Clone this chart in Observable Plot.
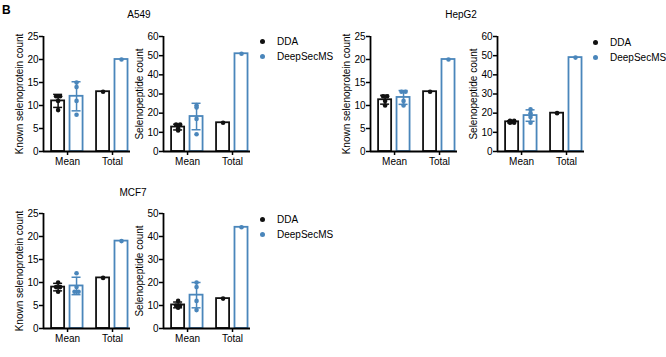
<!DOCTYPE html>
<html><head><meta charset="utf-8">
<script src="https://cdn.jsdelivr.net/npm/d3@7"></script>
<script src="https://cdn.jsdelivr.net/npm/@observablehq/plot@0.6"></script>
<style>
body{margin:0;background:#fff;}
#fig{position:relative;width:666px;height:357px;overflow:hidden;font-family:"Liberation Sans",Arial,sans-serif;background:#fff;color:#000;}
.abs{position:absolute;white-space:nowrap;}
.title{font-size:10px;line-height:12px;transform:translateX(-50%);}
.leg{font-size:10px;line-height:15px;}
.leg .row{display:flex;align-items:center;height:15px;}
.leg .dot{width:5px;height:5px;border-radius:50%;margin-right:12px;margin-left:0;}
.svgwrap{position:absolute;}
</style></head><body><div id="fig"></div>
<script>
// ---- data ----
const groups = ["Mean", "Total"];
const series = ["DDA", "DeepSecMS"];
const seriesColors = ["#111111", "#4a86bb"];
const cellLines = ["A549", "HepG2", "MCF7"];
const metrics = ["Known selenoprotein count", "Selenopeptide count"];

// replicate counts (Mean group) per cell line, metric and series
const a549ProteinDDA = [12, 12, 11, 9];
const a549ProteinDeep = [15, 14, 11, 8];
const a549PeptideDDA = [14, 14, 12, 11];
const a549PeptideDeep = [24, 23, 17, 9];
const hepg2ProteinDDA = [12, 12, 11, 10];
const hepg2ProteinDeep = [13, 13, 11, 10];
const hepg2PeptideDDA = [16, 16, 15, 15];
const hepg2PeptideDeep = [22, 20, 18, 15];
const mcf7ProteinDDA = [10, 9, 9, 8];
const mcf7ProteinDeep = [12, 9, 8, 8];
const mcf7PeptideDDA = [12, 10, 10, 9];
const mcf7PeptideDeep = [20, 18, 12, 8];

// Total group values [DDA, DeepSecMS]
const a549ProteinTotal = [13, 20];
const a549PeptideTotal = [15, 51];
const hepg2ProteinTotal = [13, 20];
const hepg2PeptideTotal = [20, 49];
const mcf7ProteinTotal = [11, 19];
const mcf7PeptideTotal = [13, 44];

// y-axis maxima and tick steps
const proteinYMax = [25, 25, 25];
const peptideYMax = [60, 60, 50];
const proteinTickStep = 5;
const peptideTickStep = 10;

// ---- layout ----
const panels = [
  {cell: 0, metric: 0, reps: [a549ProteinDDA, a549ProteinDeep], totals: a549ProteinTotal, ymax: proteinYMax[0], step: proteinTickStep, axisX: 43, top: 0},
  {cell: 0, metric: 1, reps: [a549PeptideDDA, a549PeptideDeep], totals: a549PeptideTotal, ymax: peptideYMax[0], step: peptideTickStep, axisX: 163, top: 0},
  {cell: 1, metric: 0, reps: [hepg2ProteinDDA, hepg2ProteinDeep], totals: hepg2ProteinTotal, ymax: proteinYMax[1], step: proteinTickStep, axisX: 370, top: 0},
  {cell: 1, metric: 1, reps: [hepg2PeptideDDA, hepg2PeptideDeep], totals: hepg2PeptideTotal, ymax: peptideYMax[1], step: peptideTickStep, axisX: 497, top: 0},
  {cell: 2, metric: 0, reps: [mcf7ProteinDDA, mcf7ProteinDeep], totals: mcf7ProteinTotal, ymax: proteinYMax[2], step: proteinTickStep, axisX: 43, top: 177},
  {cell: 2, metric: 1, reps: [mcf7PeptideDDA, mcf7PeptideDeep], totals: mcf7PeptideTotal, ymax: peptideYMax[2], step: peptideTickStep, axisX: 163, top: 177}
];
const titles = [{cell: 0, x: 139, y: 9}, {cell: 1, x: 461, y: 9}, {cell: 2, x: 133, y: 187}];
const legends = [{x: 260, y: 34}, {x: 593, y: 35}, {x: 260, y: 212}];

const fig = document.getElementById("fig");
const FONT = '"Liberation Sans", Arial, sans-serif';
const seriesOffset = [-0.21, 0.2];
const halfW = 0.145, capHalf = 0.1, jitter = 0.09;
const xDomain = [-0.535, 1.4];

function makePanel(p) {
  const bars = [], errs = [], caps = [], pts = [];
  series.forEach((s, si) => {
    const reps = p.reps[si];
    const m = d3.mean(reps), sd = d3.deviation(reps);
    const xm = 0 + seriesOffset[si];
    bars.push({x: xm, v: m, s: si});
    errs.push({x: xm, lo: m - sd, hi: m + sd, s: si});
    caps.push({x: xm, y: m - sd, s: si}, {x: xm, y: m + sd, s: si});
    const counts = d3.rollup(reps, v => v.length, d => d);
    const seen = new Map();
    reps.forEach(v => {
      const n = counts.get(v), k = seen.get(v) || 0;
      seen.set(v, k + 1);
      pts.push({x: xm + (k - (n - 1) / 2) * jitter, y: v, s: si});
    });
    const xt = 1 + seriesOffset[si];
    bars.push({x: xt, v: p.totals[si], s: si});
    pts.push({x: xt, y: p.totals[si], s: si});
  });
  const col = d => seriesColors[d.s];
  const chart = Plot.plot({
    width: 135, height: 175,
    marginLeft: 43, marginRight: 5, marginTop: 36, marginBottom: 24,
    x: {domain: xDomain},
    y: {domain: [0, p.ymax]},
    style: {fontFamily: FONT, fontSize: "10px", color: "#000", background: "transparent", overflow: "visible"},
    marks: [
      Plot.rectY(bars, {x1: d => d.x - halfW, x2: d => d.x + halfW, y1: 0, y2: "v", fill: "white", stroke: col, strokeWidth: 1.8}),
      Plot.ruleX(errs, {x: "x", y1: "lo", y2: "hi", stroke: col, strokeWidth: 1.5}),
      Plot.ruleY(caps, {y: "y", x1: d => d.x - capHalf, x2: d => d.x + capHalf, stroke: col, strokeWidth: 1.5}),
      Plot.dot(pts, {x: "x", y: "y", r: 2.3, fill: col, stroke: "none"}),
      Plot.ruleY([0], {stroke: "#000", strokeWidth: 1.8}),
      Plot.ruleX([xDomain[0]], {stroke: "#000", strokeWidth: 1.8}),
      Plot.axisY({ticks: d3.range(0, p.ymax + 1, p.step), tickSize: 4, tickPadding: 1, strokeWidth: 1.5,
        label: metrics[p.metric], labelAnchor: "center", labelOffset: 28, labelArrow: "none"}),
      Plot.axisX({ticks: [0, 1], tickFormat: i => groups[i], tickSize: 4, tickPadding: 2, strokeWidth: 1.5, label: null})
    ]
  });
  const wrap = document.createElement("div");
  wrap.className = "svgwrap";
  wrap.style.left = (p.axisX - 43) + "px";
  wrap.style.top = p.top + "px";
  wrap.appendChild(chart);
  fig.appendChild(wrap);
}
panels.forEach(makePanel);

// panel letter
const B = document.createElement("div");
B.className = "abs";
B.style.cssText = "left:2px;top:4px;font-size:12px;font-weight:bold;line-height:12px;";
B.textContent = "B";
fig.appendChild(B);

titles.forEach(t => {
  const d = document.createElement("div");
  d.className = "abs title";
  d.style.left = t.x + "px";
  d.style.top = t.y + "px";
  d.textContent = cellLines[t.cell];
  fig.appendChild(d);
});

legends.forEach(l => {
  const d = document.createElement("div");
  d.className = "abs leg";
  d.style.left = l.x + "px";
  d.style.top = l.y + "px";
  series.forEach((s, si) => {
    const r = document.createElement("div");
    r.className = "row";
    const dot = document.createElement("span");
    dot.className = "dot";
    dot.style.background = seriesColors[si];
    const tx = document.createElement("span");
    tx.textContent = s;
    r.appendChild(dot); r.appendChild(tx);
    d.appendChild(r);
  });
  fig.appendChild(d);
});
</script>
</body></html>
